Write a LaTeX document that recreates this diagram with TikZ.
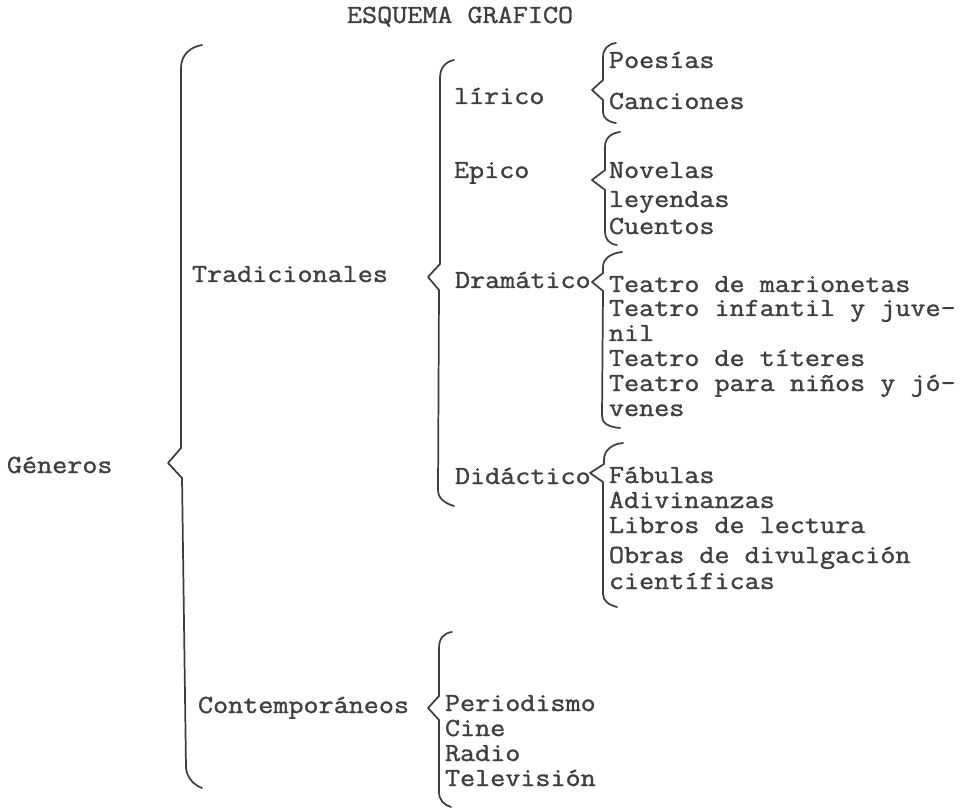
\documentclass[tikz,border=0pt]{standalone}
\usepackage{fontspec}
\setmainfont{Latin Modern Mono}[FakeStretch=1.12,FakeBold=1.2]
\definecolor{ink}{RGB}{62,62,62}
\begin{document}
\begin{tikzpicture}[x=0.75pt,y=-0.75pt,
  txt/.style={anchor=base west,inner sep=0pt,outer sep=0pt,text=ink,font=\fontsize{19.6pt}{24pt}\selectfont},
  brace/.style={draw=ink,line width=1.3pt,line cap=round,line join=round}]
\useasboundingbox (0,0) rectangle (973,812);
% texts
\node[txt] (title) at (347,23) {ESQUEMA GRAFICO};
\node[txt] (gen) at (7,473) {Géneros};
\node[txt] (trad) at (192,282) {Tradicionales};
\node[txt] (cont) at (198,713) {Contemporáneos};
\node[txt] (lir) at (454,104) {lírico};
\node[txt] (epi) at (454,178) {Epico};
\node[txt] (dra) at (455,288) {Dramático};
\node[txt] (did) at (455,484) {Didáctico};
\node[txt] (poe) at (609,68) {Poesías};
\node[txt] (can) at (609,109) {Canciones};
\node[txt] (nov) at (609,178) {Novelas};
\node[txt] (ley) at (609,207) {leyendas};
\node[txt] (cue) at (609,234) {Cuentos};
\node[txt] (t1) at (609,292) {Teatro de marionetas};
\node[txt] (t2) at (609,316) {Teatro infantil y juve-};
\node[txt] (t3) at (609,341) {nil};
\node[txt] (t4) at (609,366) {Teatro de títeres};
\node[txt] (t5) at (609,391) {Teatro para niños y jó-};
\node[txt] (t6) at (609,416) {venes};
\node[txt] (d1) at (609,483) {Fábulas};
\node[txt] (d2) at (609,508) {Adivinanzas};
\node[txt] (d3) at (609,533) {Libros de lectura};
\node[txt] (d4) at (609,563) {Obras de divulgación};
\node[txt] (d5) at (609,589) {científicas};
\node[txt] (c1) at (445,711) {Periodismo};
\node[txt] (c2) at (445,736) {Cine};
\node[txt] (c3) at (445,761) {Radio};
\node[txt] (c4) at (445,786) {Televisión};
% braces
% Generos
\draw[brace] (202,45) .. controls (190,47) and (181,55) .. (181,68) -- (181,448)
  -- (168,463) -- (182,478) -- (186,768) .. controls (187,778) and (194,785) .. (202,788);
% Tradicionales
\draw[brace] (454,60) .. controls (445,62) and (440,68) .. (440,78) -- (440,264)
  -- (428,277) -- (439,290) -- (438,490) .. controls (438,498) and (444,503) .. (454,506);
% Contemporaneos
\draw[brace] (452,632) .. controls (444,633) and (439,638) .. (439,648) -- (439,696)
  -- (428,708) -- (439,720) -- (439,792) .. controls (439,800) and (444,805) .. (451,807);
% lirico
\draw[brace] (616,43) .. controls (608,44) and (603,49) .. (603,57) -- (603,80)
  -- (592,90) -- (603,100) -- (603,112) .. controls (603,118) and (608,122) .. (616,123);
% Epico
\draw[brace] (620,132) .. controls (611,133) and (605,138) .. (605,147) -- (605,170)
  -- (592,180) -- (605,190) -- (605,232) .. controls (605,239) and (609,244) .. (617,245);
% Dramatico
\draw[brace] (622,252) .. controls (612,253) and (603,258) .. (603,267) -- (603,273)
  -- (592,282) -- (603,291) -- (602,416) .. controls (602,423) and (608,427) .. (620,428);
% Didactico
\draw[brace] (623,443) .. controls (612,444) and (604,450) .. (604,460) -- (604,464)
  -- (590,473) -- (603,482) -- (603,594) .. controls (603,601) and (609,605) .. (617,607);
\end{tikzpicture}
\end{document}
